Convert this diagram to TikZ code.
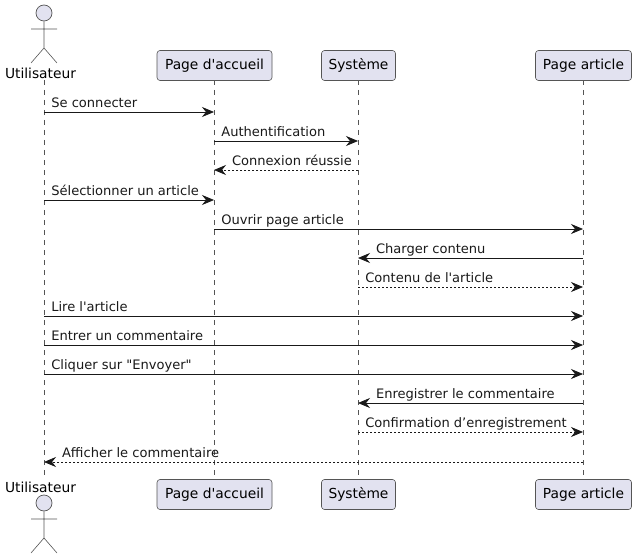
\documentclass[tikz,border=0pt]{standalone}
\usepackage{fontspec}
\setmainfont{DejaVu Sans}
\usetikzlibrary{arrows.meta}
\definecolor{actfill}{HTML}{E2E2F0}
\definecolor{actline}{HTML}{555555}
\newcommand{\bigtxt}{\fontsize{13.8pt}{15pt}\selectfont}
\tikzset{
  party/.style={draw=actline,fill=actfill,rounded corners=3pt,line width=.6pt,
    minimum height=30pt,inner sep=0pt,text=black,font=\bigtxt},
  stick/.style={draw=actline,line width=.6pt},
  life/.style={draw=actline,line width=.5pt,dash pattern=on 5pt off 5pt},
  msg/.style={draw=black!90,line width=.7pt,-{Stealth[length=12pt,width=10pt,inset=4pt]}},
  rep/.style={msg,dash pattern=on 2pt off 2pt},
  lbl/.style={anchor=base west,inner sep=0pt,xshift=7pt,yshift=4.4pt,text=black!90},
  lblback/.style={lbl,xshift=10.7pt},
}
\begin{document}
\begin{tikzpicture}[x=1pt,y=-1pt,font=\fontsize{13.05pt}{15pt}\selectfont]
\useasboundingbox (0,0) rectangle (637,559);
% lifelines
\coordinate (Utop) at (44,80); \coordinate (Ubot) at (44,479);
\coordinate (Atop) at (214,80); \coordinate (Abot) at (214,479);
\coordinate (Stop) at (358,80); \coordinate (Sbot) at (358,479);
\coordinate (Ptop) at (583,80); \coordinate (Pbot) at (583,479);
\foreach \l in {U,A,S,P}
  \draw[life] (\l top) -- (\l bot);
% head boxes
\node[party,minimum width=115pt] (Ahead) at (214.5,65.5) {Page d\textquotesingle accueil};
\node[party,minimum width=74pt] (Shead) at (358.5,65.5) {Système};
\node[party,minimum width=96pt] (Phead) at (583.5,65.5) {Page article};
\node[party,minimum width=115pt] (Afoot) at (214.5,494.5) {Page d\textquotesingle accueil};
\node[party,minimum width=74pt] (Sfoot) at (358.5,494.5) {Système};
\node[party,minimum width=96pt] (Pfoot) at (583.5,494.5) {Page article};
% actor on top
\node[circle,draw=actline,fill=actfill,line width=.7pt,minimum size=16pt,inner sep=0pt] (Uhead) at (44,13) {};
\coordinate (Uhip) at (44,48); \coordinate (Ularm) at (31,29); \coordinate (Urarm) at (57,29);
\coordinate (Ullg) at (31,63); \coordinate (Urlg) at (57,63);
\draw[stick] (Uhead) -- (Uhip) (Ularm) -- (Urarm) (Ullg) -- (Uhip) -- (Urlg);
\node[anchor=base,inner sep=0pt,font=\bigtxt] (Uname) at (40.5,78.7) {Utilisateur};
% actor below
\node[circle,draw=actline,fill=actfill,line width=.7pt,minimum size=16pt,inner sep=0pt] (Vhead) at (44,503) {};
\coordinate (Vhip) at (44,538); \coordinate (Vlarm) at (31,519); \coordinate (Vrarm) at (57,519);
\coordinate (Vllg) at (31,553); \coordinate (Vrlg) at (57,553);
\draw[stick] (Vhead) -- (Vhip) (Vlarm) -- (Vrarm) (Vllg) -- (Vhip) -- (Vrlg);
\node[anchor=base,inner sep=0pt,font=\bigtxt] (Vname) at (40.5,492) {Utilisateur};
% one row of points per message
\foreach \i/\y in {1/112,2/141,3/170,4/200,5/229,6/258,7/287,8/316,9/345,10/374,11/403,12/432,13/462} {
  \coordinate (U\i) at (44,\y);
  \coordinate (A\i) at (214,\y);
  \coordinate (S\i) at (358,\y);
  \coordinate (P\i) at (583,\y);
}
% messages
\draw[msg] (U1) -- (A1) node[lbl,pos=0] {Se connecter};
\draw[msg] (A2) -- (S2) node[lbl,pos=0] {Authentification};
\draw[rep] (S3) -- (A3) node[lblback,pos=1] {Connexion réussie};
\draw[msg] (U4) -- (A4) node[lbl,pos=0] {Sélectionner un article};
\draw[msg] (A5) -- (P5) node[lbl,pos=0] {Ouvrir page article};
\draw[msg] (P6) -- (S6) node[lblback,pos=1] {Charger contenu};
\draw[rep] (S7) -- (P7) node[lbl,pos=0] {Contenu de l\textquotesingle article};
\draw[msg] (U8) -- (P8) node[lbl,pos=0] {Lire l\textquotesingle article};
\draw[msg] (U9) -- (P9) node[lbl,pos=0] {Entrer un commentaire};
\draw[msg] (U10) -- (P10) node[lbl,pos=0] {Cliquer sur \textquotedbl Envoyer\textquotedbl};
\draw[msg] (P11) -- (S11) node[lblback,pos=1] {Enregistrer le commentaire};
\draw[rep] (S12) -- (P12) node[lbl,pos=0] {Confirmation d’enregistrement};
\draw[rep] (P13) -- (U13) node[lblback,pos=1] {Afficher le commentaire};
\end{tikzpicture}
\end{document}
